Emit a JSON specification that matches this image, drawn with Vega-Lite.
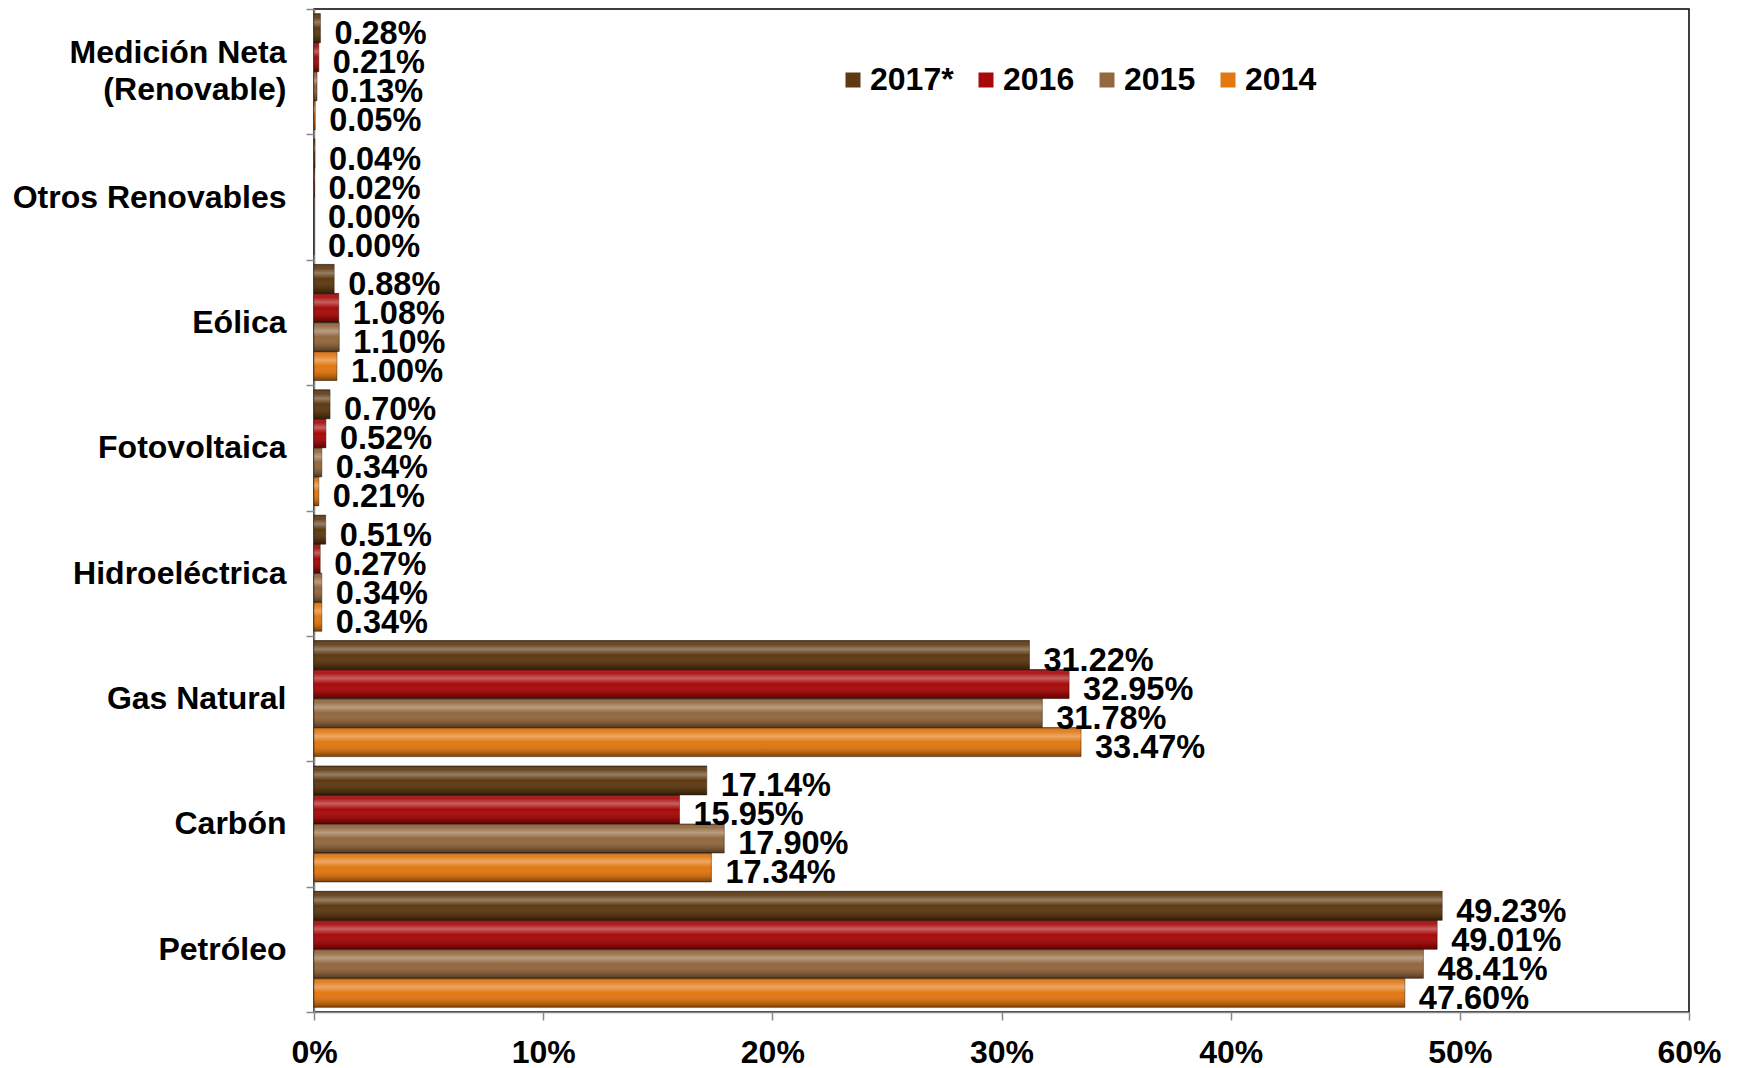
{
  "$schema": "https://vega.github.io/schema/vega-lite/v6.json",
  "width": 1375,
  "height": 1003,
  "autosize": {"type": "none"},
  "padding": {"left": 314, "top": 9, "right": 51, "bottom": 56},
  "background": "white",
  "config": {
    "view": {"stroke": "black", "strokeWidth": 1.5},
    "font": "Liberation Sans"
  },
  "data": {
    "values": [
      {"fuente": "Medición Neta (Renovable)", "year": "2017*", "value": 0.0028},
      {"fuente": "Medición Neta (Renovable)", "year": "2016", "value": 0.0021},
      {"fuente": "Medición Neta (Renovable)", "year": "2015", "value": 0.0013},
      {"fuente": "Medición Neta (Renovable)", "year": "2014", "value": 0.0005},
      {"fuente": "Otros Renovables", "year": "2017*", "value": 0.0004},
      {"fuente": "Otros Renovables", "year": "2016", "value": 0.0002},
      {"fuente": "Otros Renovables", "year": "2015", "value": 0.0},
      {"fuente": "Otros Renovables", "year": "2014", "value": 0.0},
      {"fuente": "Eólica", "year": "2017*", "value": 0.0088},
      {"fuente": "Eólica", "year": "2016", "value": 0.0108},
      {"fuente": "Eólica", "year": "2015", "value": 0.0110},
      {"fuente": "Eólica", "year": "2014", "value": 0.0100},
      {"fuente": "Fotovoltaica", "year": "2017*", "value": 0.0070},
      {"fuente": "Fotovoltaica", "year": "2016", "value": 0.0052},
      {"fuente": "Fotovoltaica", "year": "2015", "value": 0.0034},
      {"fuente": "Fotovoltaica", "year": "2014", "value": 0.0021},
      {"fuente": "Hidroeléctrica", "year": "2017*", "value": 0.0051},
      {"fuente": "Hidroeléctrica", "year": "2016", "value": 0.0027},
      {"fuente": "Hidroeléctrica", "year": "2015", "value": 0.0034},
      {"fuente": "Hidroeléctrica", "year": "2014", "value": 0.0034},
      {"fuente": "Gas Natural", "year": "2017*", "value": 0.3122},
      {"fuente": "Gas Natural", "year": "2016", "value": 0.3295},
      {"fuente": "Gas Natural", "year": "2015", "value": 0.3178},
      {"fuente": "Gas Natural", "year": "2014", "value": 0.3347},
      {"fuente": "Carbón", "year": "2017*", "value": 0.1714},
      {"fuente": "Carbón", "year": "2016", "value": 0.1595},
      {"fuente": "Carbón", "year": "2015", "value": 0.1790},
      {"fuente": "Carbón", "year": "2014", "value": 0.1734},
      {"fuente": "Petróleo", "year": "2017*", "value": 0.4923},
      {"fuente": "Petróleo", "year": "2016", "value": 0.4901},
      {"fuente": "Petróleo", "year": "2015", "value": 0.4841},
      {"fuente": "Petróleo", "year": "2014", "value": 0.4760}
    ]
  },
  "encoding": {
    "y": {
      "field": "fuente",
      "type": "nominal",
      "sort": ["Medición Neta (Renovable)", "Otros Renovables", "Eólica", "Fotovoltaica", "Hidroeléctrica", "Gas Natural", "Carbón", "Petróleo"],
      "scale": {"paddingInner": 0, "paddingOuter": 0},
      "axis": {
        "title": null,
        "tickBand": "extent",
        "domainColor": "#888888",
        "domainWidth": 1.5,
        "tickColor": "#888888",
        "tickWidth": 1.5,
        "tickSize": 8,
        "labelPadding": 20,
        "labelFontSize": 32,
        "labelFontWeight": "bold",
        "labelColor": "black",
        "labelLimit": 400,
        "labelLineHeight": 37,
        "labelOffset": {"condition": {"test": "datum.value == 'Medición Neta (Renovable)'", "value": -19}, "value": 0},
        "labelExpr": "datum.value == 'Medición Neta (Renovable)' ? ['Medición Neta', '(Renovable)\u00a0\u00a0'] : datum.label"
      }
    },
    "yOffset": {
      "field": "year",
      "type": "nominal",
      "sort": ["2017*", "2016", "2015", "2014"],
      "scale": {"paddingInner": 0, "paddingOuter": 0.16}
    },
    "x": {
      "field": "value",
      "type": "quantitative",
      "scale": {"domain": [0, 0.6], "nice": false},
      "axis": {
        "title": null,
        "format": ".0%",
        "values": [0, 0.1, 0.2, 0.3, 0.4, 0.5, 0.6],
        "grid": false,
        "domainColor": "#888888",
        "domainWidth": 1.5,
        "tickColor": "#888888",
        "tickWidth": 1.5,
        "tickSize": 8,
        "labelPadding": 17,
        "labelFontSize": 32,
        "labelFontWeight": "bold",
        "labelColor": "black",
        "labelFlush": false
      }
    }
  },
  "layer": [
    {
      "mark": {"type": "bar", "stroke": "#2a1a0a", "strokeWidth": 1, "strokeOpacity": 0.5},
      "encoding": {
        "color": {
          "field": "year",
          "type": "nominal",
          "sort": ["2017*", "2016", "2015", "2014"],
          "scale": {"domain": ["2017*", "2016", "2015", "2014"], "range": ["#5e3a12", "#a80a0a", "#93683f", "#e27812"]},
          "legend": {
            "title": null,
            "orient": "none",
            "legendX": 523,
            "legendY": 55,
            "direction": "horizontal",
            "symbolType": "square",
            "symbolSize": 225,
            "symbolStrokeWidth": 0,
            "labelFontSize": 32,
            "labelFontWeight": "bold",
            "labelColor": "black",
            "labelOffset": 1,
            "columnPadding": 16,
            "labelLimit": 300
          }
        }
      }
    },
    {
      "mark": {
        "type": "bar",
        "color": {
          "gradient": "linear",
          "x1": 0, "y1": 0, "x2": 0, "y2": 1,
          "stops": [
            {"offset": 0, "color": "rgba(0,0,0,0.35)"},
            {"offset": 0.12, "color": "rgba(255,255,255,0.05)"},
            {"offset": 0.3, "color": "rgba(255,255,255,0.35)"},
            {"offset": 0.5, "color": "rgba(255,255,255,0.0)"},
            {"offset": 0.85, "color": "rgba(0,0,0,0.18)"},
            {"offset": 1, "color": "rgba(0,0,0,0.45)"}
          ]
        }
      }
    },
    {
      "mark": {"type": "text", "align": "left", "baseline": "middle", "dx": 14, "dy": 6, "fontSize": 32.5, "fontWeight": "bold", "color": "black"},
      "encoding": {
        "text": {"field": "value", "type": "quantitative", "format": ".2%"}
      }
    }
  ]
}
